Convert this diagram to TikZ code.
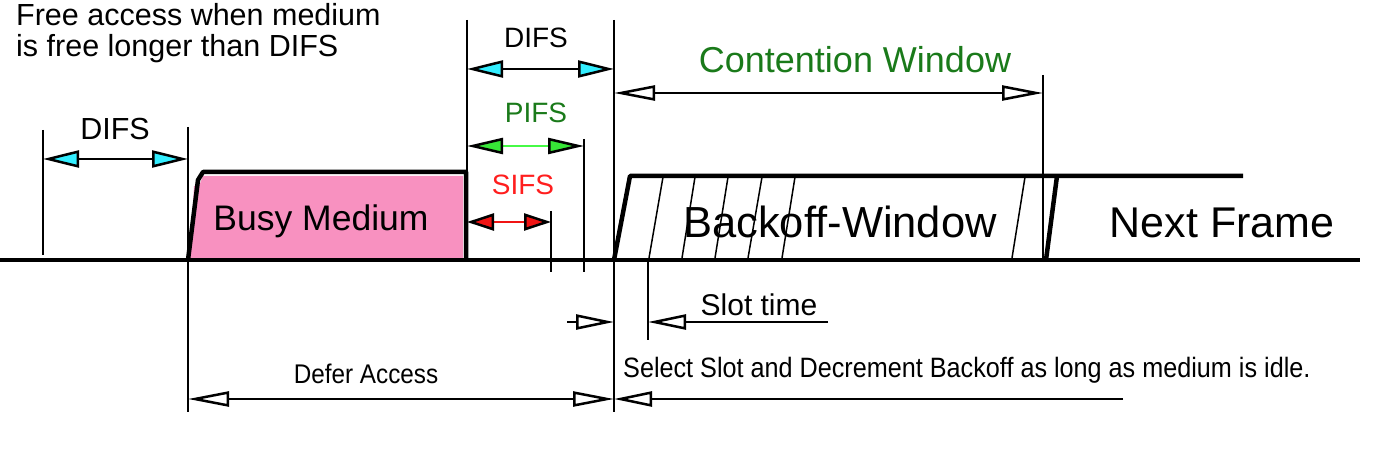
\documentclass[tikz,border=0pt]{standalone}
\usepackage{fontspec}
\usepackage{graphicx}
\setmainfont{Liberation Sans}
\usetikzlibrary{arrows.meta}
\definecolor{pinkF}{RGB}{248,145,192}
\definecolor{cyanF}{RGB}{51,238,255}
\definecolor{greenF}{RGB}{55,230,55}
\definecolor{greenL}{RGB}{70,250,70}
\definecolor{greenT}{RGB}{26,122,26}
\definecolor{redF}{RGB}{240,20,20}
\definecolor{redT}{RGB}{255,30,30}
\tikzset{
  thinv/.style={line width=2pt},
  thickl/.style={line width=4.5pt},
  baseln/.style={line width=4pt},
  dimarrow/.style={line width=2.5pt},
  cyantip/.style={dimarrow, {Triangle[length=36pt,width=17pt,fill=cyanF]}-{Triangle[length=36pt,width=17pt,fill=cyanF]}},
  greentip/.style={dimarrow, draw=greenL, {Triangle[length=36pt,width=16pt,color=black,fill=greenF]}-{Triangle[length=36pt,width=16pt,color=black,fill=greenF]}},
  redtip/.style={dimarrow, draw=redF, {Triangle[length=27pt,width=17pt,color=black,fill=redF]}-{Triangle[length=27pt,width=17pt,color=black,fill=redF]}},
  opentip/.style={dimarrow, -{Triangle[open,length=38pt,width=15pt]}},
  openboth/.style={dimarrow, {Triangle[open,length=41pt,width=15pt]}-{Triangle[open,length=41pt,width=15pt]}},
  lbl/.style={inner sep=0pt, anchor=base},
}
\newcommand{\fs}[1]{\fontsize{#1}{#1}\selectfont}
\begin{document}
\begin{tikzpicture}[x=1pt,y=-1pt]
\useasboundingbox (0,0) rectangle (1381,473);

% key coordinates
\coordinate (b0) at (0,260);
\coordinate (b1) at (1360,260);

% pink busy medium fill
\fill[pinkF] (190,258) -- (194,186) -- (199,186) -- (203,176) -- (463,176) -- (463,258) -- cycle;

% main baseline
\draw[baseln] (b0) -- (b1);

% vertical guide lines
\coordinate (v43t) at (43,130);   \coordinate (v43b) at (43,255);
\coordinate (v188t) at (188,127); \coordinate (v188b) at (188,412);
\coordinate (v467t) at (467,20);  \coordinate (v467b) at (467,260);
\coordinate (v551t) at (551,211); \coordinate (v551b) at (551,272);
\coordinate (v584t) at (584,139); \coordinate (v584b) at (584,272);
\coordinate (v614t) at (614,20);  \coordinate (v614b) at (614,412);
\coordinate (v648t) at (648,260); \coordinate (v648b) at (648,340);
\coordinate (v1043t) at (1043,75); \coordinate (v1043b) at (1043,260);
\foreach \n in {43,188,467,551,584,614,648,1043}
  \draw[thinv] (v\n t) -- (v\n b);

% busy medium outline
\draw[thickl, line join=round] (188,260) -- (198,180) -- (203,172) -- (466,172) -- (466,260);

% backoff window
\draw[thickl, line join=round] (614,260) -- (630,176) -- (1243,176);
\draw[thickl] (1046,260) -- (1057,176);
\foreach \a/\b in {649/663,682/695,715/728,748/762,782/795,1012/1025}
  \draw[line width=1.5pt] (\a,258) -- (\b,177);

% dimension arrows
\coordinate (dl1) at (43,159);  \coordinate (dl2) at (188,159);
\draw[cyantip] (dl1) -- (dl2);
\coordinate (dt1) at (467,69);  \coordinate (dt2) at (614,69);
\draw[cyantip] (dt1) -- (dt2);
\coordinate (p1) at (467,146);  \coordinate (p2) at (584,146);
\draw[greentip] (p1) -- (p2);
\coordinate (s1) at (467,222);  \coordinate (s2) at (551,222);
\draw[redtip] (s1) -- (s2);
\coordinate (cw1) at (614,93);  \coordinate (cw2) at (1043,93);
\draw[openboth] (cw1) -- (cw2);

% slot time
\coordinate (st0) at (567,322); \coordinate (st1) at (614,322);
\coordinate (st2) at (648,322); \coordinate (st3) at (828,322);
\draw[opentip] (st0) -- (st1);
\draw[opentip] (st3) -- (st2);

% defer access
\coordinate (da1) at (188,399); \coordinate (da2) at (614,399);
\draw[openboth] (da1) -- (da2);
\coordinate (sl0) at (1123,399);
\draw[opentip] (sl0) -- (da2);

% labels
\node[lbl, anchor=base west] (free1) at (16,26) {\fs{30.5}Free access when medium};
\node[lbl, anchor=base west] (free2) at (16,57) {\fs{30.5}is free longer than DIFS};
\node[lbl] (difsL) at (115,140) {\fs{30.5}DIFS};
\node[lbl] (difsT) at (536,48) {\fs{28}DIFS};
\node[lbl, text=greenT] (pifs) at (536,123) {\fs{28}PIFS};
\node[lbl, text=redT] (sifs) at (523,195) {\fs{28}SIFS};
\node[lbl, text=greenT] (cw) at (855,73) {\fs{36}Contention Window};
\node[lbl] (busy) at (321,230) {\fs{35.5}Busy Medium};
\node[lbl] (backoff) at (840,237) {\fs{43.5}Backoff-Window};
\node[lbl] (next) at (1222,237) {\fs{43}Next Frame};
\node[lbl] (slot) at (759,315) {\fs{30}Slot time};
\node[lbl] (defer) at (366,383) {\scalebox{0.9}[1]{\fs{27}Defer Access}};
\node[lbl, anchor=base west] (select) at (623,377) {\scalebox{0.9}[1]{\fs{28}Select Slot and Decrement Backoff as long as medium is idle.}};
\end{tikzpicture}
\end{document}
